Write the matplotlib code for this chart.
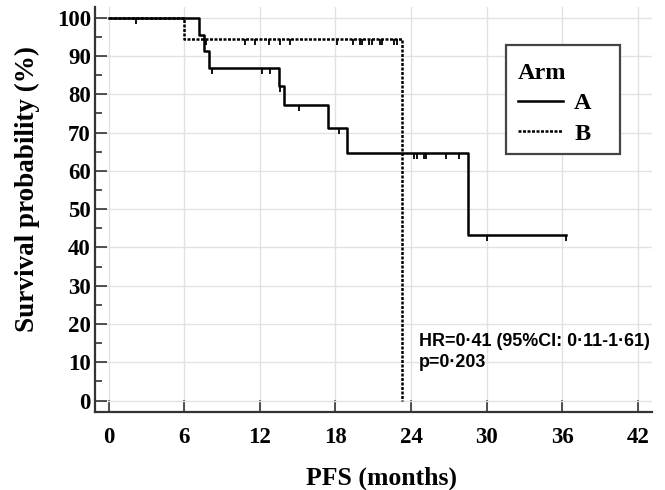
import numpy as np
import matplotlib
matplotlib.use('Agg')
import matplotlib.pyplot as plt
from matplotlib.path import Path
from matplotlib.patches import Rectangle

# Kaplan-Meier steps (months, survival %)
a_times = [0, 7.2, 7.6, 8.0, 13.5, 13.9, 17.4, 18.9, 28.5, 36.3]
a_surv = [100, 95.4, 91.3, 86.9, 82.2, 77.1, 71.2, 64.7, 43.2, 43.2]
b_times = [0, 6.0, 23.3, 23.3]
b_surv = [100, 94.4, 94.4, 0]

# censoring marks
a_cens = [2.2, 8.2, 12.15, 12.8, 13.6, 15.1, 18.3, 24.25, 24.5, 25.0, 25.2,
          26.8, 27.8, 30.0, 36.3]
b_cens = [7.75, 10.8, 11.6, 12.7, 13.6, 14.4, 18.15, 19.4, 19.95, 20.1,
          20.7, 20.9, 21.5, 21.7, 22.65, 22.9]

x_ticks = [0, 6, 12, 18, 24, 30, 36, 42]
y_ticks = [0, 10, 20, 30, 40, 50, 60, 70, 80, 90, 100]
annot = 'HR=0\u00b741 (95%CI: 0\u00b711-1\u00b761)\np=0\u00b7203'


def surv_at(times, surv, t):
    idx = np.searchsorted(times, t, side='right') - 1
    return surv[idx]


plt.rcParams['font.family'] = 'Liberation Serif'
plt.rcParams['font.weight'] = 'bold'

fig = plt.figure(figsize=(6.65, 4.9), dpi=100)
ax = fig.add_axes([0.1429, 0.1592, 0.9805 - 0.1429, 0.9857 - 0.1592])

tick_down = Path([(0, 0), (0, -1)])

ax.step(b_times, b_surv, where='post', color='black', lw=1.8,
        ls=(0, (1.2, 0.6)), label='B', zorder=3)
ax.step(a_times, a_surv, where='post', color='black', lw=1.8,
        label='A', zorder=4)

ax.plot(a_cens, [surv_at(a_times, a_surv, t) for t in a_cens], ls='none',
        marker=tick_down, ms=9, mew=1.3, color='black', zorder=4)
ax.plot(b_cens, [surv_at(b_times[:3], b_surv[:3], t) for t in b_cens],
        ls='none', marker=tick_down, ms=9, mew=1.3, color='black', zorder=4)

ax.set_xlim(-1.08, 43.13)
ax.set_ylim(-3.0, 102.8)
ax.set_xticks(x_ticks)
ax.set_yticks(y_ticks)
ax.set_yticks(np.arange(5, 100, 10), minor=True)
ax.grid(True, which='major', color='#e2e2e2', lw=1.0)
ax.set_axisbelow(True)

for s in ['top', 'right']:
    ax.spines[s].set_visible(False)
for s in ['left', 'bottom']:
    ax.spines[s].set_color('#333333')
    ax.spines[s].set_linewidth(1.6)

ax.tick_params(axis='both', which='major', direction='in', length=8.5,
               width=1.2, color='#333333', labelsize=16.5)
ax.tick_params(axis='y', which='minor', direction='in', length=5,
               width=1.2, color='#333333')
ax.tick_params(axis='x', pad=11)
ax.tick_params(axis='y', pad=3)
for lab in ax.get_xticklabels() + ax.get_yticklabels():
    lab.set_fontweight('bold')

ax.set_xlabel('PFS (months)', fontsize=18.5, fontweight='bold')
ax.set_ylabel('Survival probability (%)', fontsize=19.5, fontweight='bold')
ax.xaxis.set_label_coords(0.515, -0.135)
ax.yaxis.set_label_coords(-0.098, 0.55)

ax.text(24.6, 12.7, annot, fontsize=12.9, fontweight='bold',
        family='Liberation Sans', va='center', ha='left', linespacing=1.3)

# legend box drawn separately so its size matches the original
ax.add_patch(Rectangle((0.738, 0.637), 0.9425 - 0.738, 0.906 - 0.637,
                       transform=ax.transAxes, fill=True, facecolor='white',
                       edgecolor='#444444', lw=1.6, zorder=5))

handles, labels = ax.get_legend_handles_labels()
leg = ax.legend(handles[::-1], labels[::-1], title='Arm', loc='upper left',
                bbox_to_anchor=(0.738, 0.892), frameon=False,
                fontsize=17.5, title_fontsize=17.5, handlelength=1.85,
                handletextpad=0.45, borderpad=0.5, borderaxespad=0,
                labelspacing=0.35, alignment='left')
leg.set_zorder(6)
leg.get_title().set_fontweight('bold')
for t in leg.get_texts():
    t.set_fontweight('bold')

fig.savefig('out.png', dpi=100)
